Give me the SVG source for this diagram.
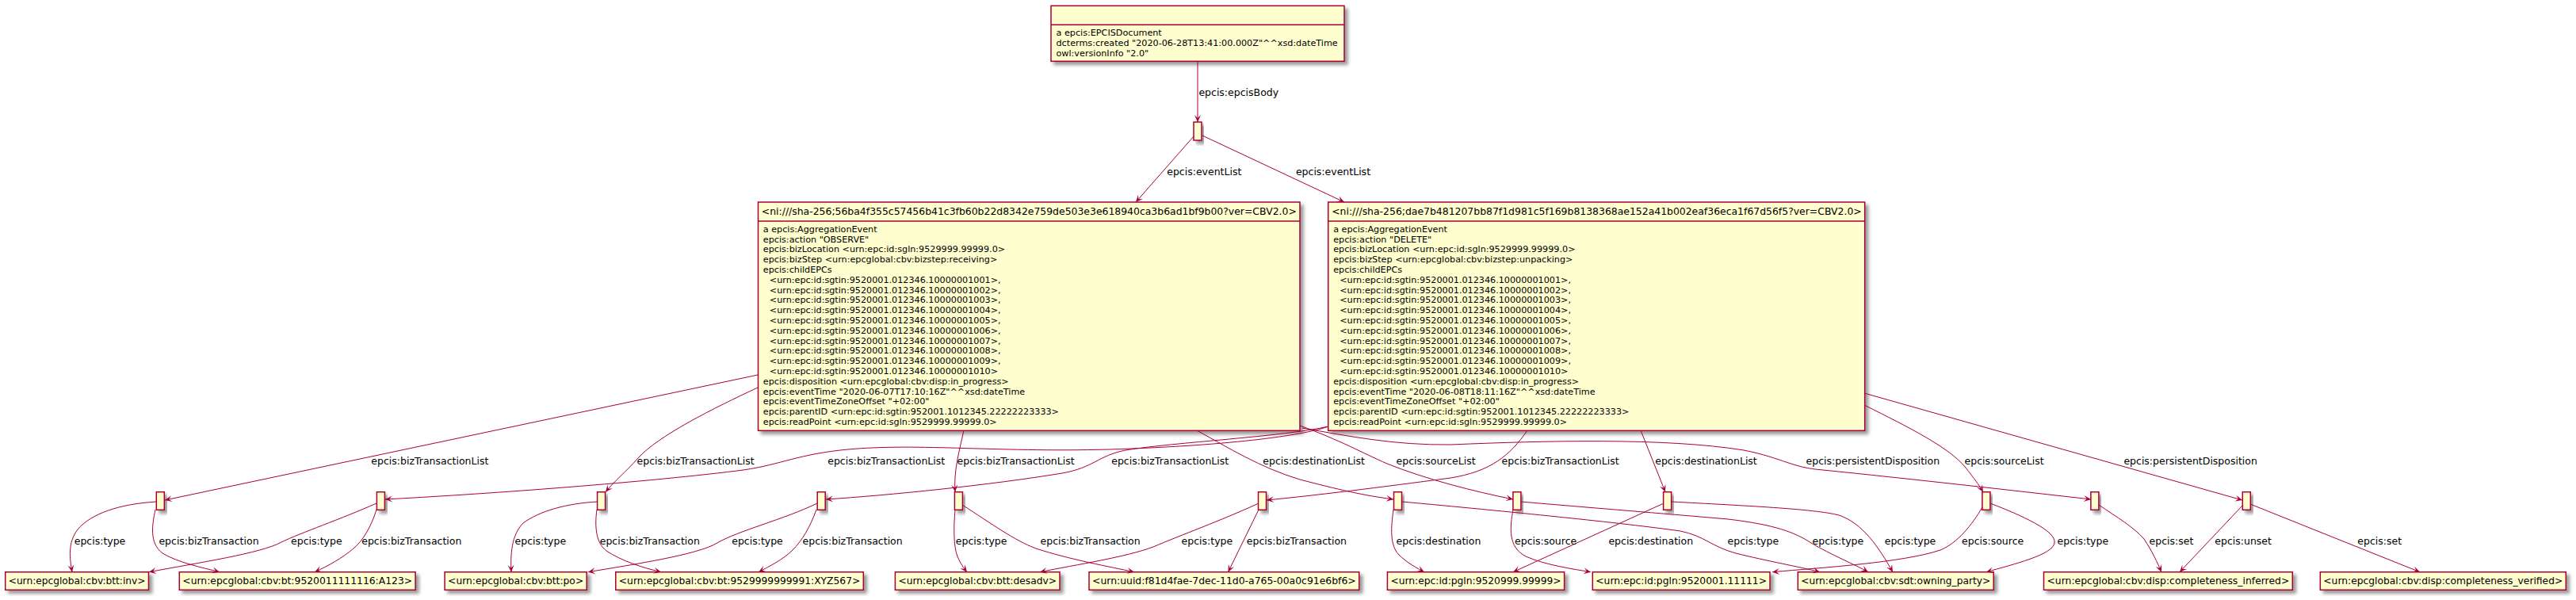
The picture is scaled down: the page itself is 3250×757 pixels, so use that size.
<svg xmlns="http://www.w3.org/2000/svg" width="3250" height="757" viewBox="0 0 3250 757">
<style>
.bx{fill:#FEFECE;stroke:#A80036;stroke-width:1.5}
.dv{stroke:#A80036;stroke-width:1.5}
.e{fill:none;stroke:#A80036;stroke-width:1}
text{font-family:"DejaVu Sans","Liberation Sans",sans-serif;fill:#000000}
.b{font-size:11.2px}
.h{font-size:12.3px}
.l{font-size:12.5px}
</style>
<defs>
<filter id="sh" x="-20%" y="-20%" width="150%" height="150%">
<feGaussianBlur in="SourceAlpha" stdDeviation="2" result="b1"/>
<feColorMatrix in="b1" type="matrix" values="0 0 0 0 0  0 0 0 0 0  0 0 0 0 0  0 0 0 0.4 0" result="b2"/>
<feOffset in="b2" dx="4" dy="4" result="b3"/>
<feMerge><feMergeNode in="b3"/><feMergeNode in="SourceGraphic"/></feMerge>
</filter>
<marker id="ah" viewBox="0 0 10 10" refX="10" refY="5" markerWidth="10" markerHeight="10" markerUnits="userSpaceOnUse" orient="auto">
<path d="M10,5 L1,1 L5,5 L1,9 Z" fill="#A80036"/>
</marker>
</defs>
<rect width="3250" height="757" fill="#FFFFFF"/>

<g id="doc">
<rect class="bx" x="1326" y="7.3" width="370" height="70" filter="url(#sh)"/>
<line class="dv" x1="1326" y1="31.3" x2="1696" y2="31.3"/>
<text class="b" x="1332.5" y="45">a epcis:EPCISDocument</text>
<text class="b" x="1332.5" y="57.8">dcterms:created "2020-06-28T13:41:00.000Z"^^xsd:dateTime</text>
<text class="b" x="1332.5" y="70.6">owl:versionInfo "2.0"</text>
</g>

<g id="body"><rect class="bx" x="1506" y="154" width="10" height="23" filter="url(#sh)"/></g>

<g id="event1">
<rect class="bx" x="956.5" y="255" width="683.5" height="288.3" filter="url(#sh)"/>
<line class="dv" x1="956.5" y1="279" x2="1640" y2="279"/>
<text class="h" x="960.8" y="270.5" textLength="675" lengthAdjust="spacingAndGlyphs">&lt;ni:///sha-256;56ba4f355c57456b41c3fb60b22d8342e759de503e3e618940ca3b6ad1bf9b00?ver=CBV2.0&gt;</text>
<text class="b" y="292.7">
<tspan x="962.8">a epcis:AggregationEvent</tspan>
<tspan x="962.8" dy="12.8">epcis:action "OBSERVE"</tspan>
<tspan x="962.8" dy="12.8">epcis:bizLocation &lt;urn:epc:id:sgln:9529999.99999.0&gt;</tspan>
<tspan x="962.8" dy="12.8">epcis:bizStep &lt;urn:epcglobal:cbv:bizstep:receiving&gt;</tspan>
<tspan x="962.8" dy="12.8">epcis:childEPCs</tspan>
<tspan x="970.8" dy="12.8">&lt;urn:epc:id:sgtin:9520001.012346.10000001001&gt;,</tspan>
<tspan x="970.8" dy="12.8">&lt;urn:epc:id:sgtin:9520001.012346.10000001002&gt;,</tspan>
<tspan x="970.8" dy="12.8">&lt;urn:epc:id:sgtin:9520001.012346.10000001003&gt;,</tspan>
<tspan x="970.8" dy="12.8">&lt;urn:epc:id:sgtin:9520001.012346.10000001004&gt;,</tspan>
<tspan x="970.8" dy="12.8">&lt;urn:epc:id:sgtin:9520001.012346.10000001005&gt;,</tspan>
<tspan x="970.8" dy="12.8">&lt;urn:epc:id:sgtin:9520001.012346.10000001006&gt;,</tspan>
<tspan x="970.8" dy="12.8">&lt;urn:epc:id:sgtin:9520001.012346.10000001007&gt;,</tspan>
<tspan x="970.8" dy="12.8">&lt;urn:epc:id:sgtin:9520001.012346.10000001008&gt;,</tspan>
<tspan x="970.8" dy="12.8">&lt;urn:epc:id:sgtin:9520001.012346.10000001009&gt;,</tspan>
<tspan x="970.8" dy="12.8">&lt;urn:epc:id:sgtin:9520001.012346.10000001010&gt;</tspan>
<tspan x="962.8" dy="12.8">epcis:disposition &lt;urn:epcglobal:cbv:disp:in_progress&gt;</tspan>
<tspan x="962.8" dy="12.8">epcis:eventTime "2020-06-07T17:10:16Z"^^xsd:dateTime</tspan>
<tspan x="962.8" dy="12.8">epcis:eventTimeZoneOffset "+02:00"</tspan>
<tspan x="962.8" dy="12.8">epcis:parentID &lt;urn:epc:id:sgtin:952001.1012345.22222223333&gt;</tspan>
<tspan x="962.8" dy="12.8">epcis:readPoint &lt;urn:epc:id:sgln:9529999.99999.0&gt;</tspan>
</text>
</g>

<g id="event2">
<rect class="bx" x="1675.7" y="255" width="677" height="288.3" filter="url(#sh)"/>
<line class="dv" x1="1675.7" y1="279" x2="2352.7" y2="279"/>
<text class="h" x="1680.2" y="270.5" textLength="668.5" lengthAdjust="spacingAndGlyphs">&lt;ni:///sha-256;dae7b481207bb87f1d981c5f169b8138368ae152a41b002eaf36eca1f67d56f5?ver=CBV2.0&gt;</text>
<text class="b" y="292.7">
<tspan x="1682.2">a epcis:AggregationEvent</tspan>
<tspan x="1682.2" dy="12.8">epcis:action "DELETE"</tspan>
<tspan x="1682.2" dy="12.8">epcis:bizLocation &lt;urn:epc:id:sgln:9529999.99999.0&gt;</tspan>
<tspan x="1682.2" dy="12.8">epcis:bizStep &lt;urn:epcglobal:cbv:bizstep:unpacking&gt;</tspan>
<tspan x="1682.2" dy="12.8">epcis:childEPCs</tspan>
<tspan x="1690.2" dy="12.8">&lt;urn:epc:id:sgtin:9520001.012346.10000001001&gt;,</tspan>
<tspan x="1690.2" dy="12.8">&lt;urn:epc:id:sgtin:9520001.012346.10000001002&gt;,</tspan>
<tspan x="1690.2" dy="12.8">&lt;urn:epc:id:sgtin:9520001.012346.10000001003&gt;,</tspan>
<tspan x="1690.2" dy="12.8">&lt;urn:epc:id:sgtin:9520001.012346.10000001004&gt;,</tspan>
<tspan x="1690.2" dy="12.8">&lt;urn:epc:id:sgtin:9520001.012346.10000001005&gt;,</tspan>
<tspan x="1690.2" dy="12.8">&lt;urn:epc:id:sgtin:9520001.012346.10000001006&gt;,</tspan>
<tspan x="1690.2" dy="12.8">&lt;urn:epc:id:sgtin:9520001.012346.10000001007&gt;,</tspan>
<tspan x="1690.2" dy="12.8">&lt;urn:epc:id:sgtin:9520001.012346.10000001008&gt;,</tspan>
<tspan x="1690.2" dy="12.8">&lt;urn:epc:id:sgtin:9520001.012346.10000001009&gt;,</tspan>
<tspan x="1690.2" dy="12.8">&lt;urn:epc:id:sgtin:9520001.012346.10000001010&gt;</tspan>
<tspan x="1682.2" dy="12.8">epcis:disposition &lt;urn:epcglobal:cbv:disp:in_progress&gt;</tspan>
<tspan x="1682.2" dy="12.8">epcis:eventTime "2020-06-08T18:11:16Z"^^xsd:dateTime</tspan>
<tspan x="1682.2" dy="12.8">epcis:eventTimeZoneOffset "+02:00"</tspan>
<tspan x="1682.2" dy="12.8">epcis:parentID &lt;urn:epc:id:sgtin:952001.1012345.22222223333&gt;</tspan>
<tspan x="1682.2" dy="12.8">epcis:readPoint &lt;urn:epc:id:sgln:9529999.99999.0&gt;</tspan>
</text>
</g>

<g id="blanks">
<g id="bA"><rect class="bx" x="197.3" y="620.7" width="10" height="22.6" filter="url(#sh)"/></g>
<g id="bB"><rect class="bx" x="475.4" y="620.7" width="10" height="22.6" filter="url(#sh)"/></g>
<g id="bC"><rect class="bx" x="753.6" y="620.7" width="10" height="22.6" filter="url(#sh)"/></g>
<g id="bD"><rect class="bx" x="1031.2" y="620.7" width="10" height="22.6" filter="url(#sh)"/></g>
<g id="bE"><rect class="bx" x="1204.4" y="620.7" width="10" height="22.6" filter="url(#sh)"/></g>
<g id="bF"><rect class="bx" x="1587.5" y="620.7" width="10" height="22.6" filter="url(#sh)"/></g>
<g id="bG"><rect class="bx" x="1758.5" y="620.7" width="10" height="22.6" filter="url(#sh)"/></g>
<g id="bH"><rect class="bx" x="1908.9" y="620.7" width="10" height="22.6" filter="url(#sh)"/></g>
<g id="bI"><rect class="bx" x="2098.6" y="620.7" width="10" height="22.6" filter="url(#sh)"/></g>
<g id="bJ"><rect class="bx" x="2500.9" y="620.7" width="10" height="22.6" filter="url(#sh)"/></g>
<g id="bK"><rect class="bx" x="2637.9" y="620.7" width="10" height="22.6" filter="url(#sh)"/></g>
<g id="bL"><rect class="bx" x="2829.3" y="620.7" width="10" height="22.6" filter="url(#sh)"/></g>
</g>

<g id="leaves">
<g id="n1"><rect class="bx" x="6.7" y="721.7" width="180.8" height="22.6" filter="url(#sh)"/><text class="h" x="10.7" y="737" textLength="172.8" lengthAdjust="spacingAndGlyphs">&lt;urn:epcglobal:cbv:btt:inv&gt;</text></g>
<g id="n2"><rect class="bx" x="226.3" y="721.7" width="297.8" height="22.6" filter="url(#sh)"/><text class="h" x="230.3" y="737" textLength="289.8" lengthAdjust="spacingAndGlyphs">&lt;urn:epcglobal:cbv:bt:9520011111116:A123&gt;</text></g>
<g id="n3"><rect class="bx" x="561.1" y="721.7" width="179.1" height="22.6" filter="url(#sh)"/><text class="h" x="565.1" y="737" textLength="171.1" lengthAdjust="spacingAndGlyphs">&lt;urn:epcglobal:cbv:btt:po&gt;</text></g>
<g id="n4"><rect class="bx" x="776.8" y="721.7" width="312.5" height="22.6" filter="url(#sh)"/><text class="h" x="780.8" y="737" textLength="304.5" lengthAdjust="spacingAndGlyphs">&lt;urn:epcglobal:cbv:bt:9529999999991:XYZ567&gt;</text></g>
<g id="n5"><rect class="bx" x="1129.4" y="721.7" width="207.6" height="22.6" filter="url(#sh)"/><text class="h" x="1133.4" y="737" textLength="199.6" lengthAdjust="spacingAndGlyphs">&lt;urn:epcglobal:cbv:btt:desadv&gt;</text></g>
<g id="n6"><rect class="bx" x="1374" y="721.7" width="340.7" height="22.6" filter="url(#sh)"/><text class="h" x="1378" y="737" textLength="332.7" lengthAdjust="spacingAndGlyphs">&lt;urn:uuid:f81d4fae-7dec-11d0-a765-00a0c91e6bf6&gt;</text></g>
<g id="n7"><rect class="bx" x="1750.4" y="721.7" width="223.2" height="22.6" filter="url(#sh)"/><text class="h" x="1754.4" y="737" textLength="215.2" lengthAdjust="spacingAndGlyphs">&lt;urn:epc:id:pgln:9520999.99999&gt;</text></g>
<g id="n8"><rect class="bx" x="2009.3" y="721.7" width="223.7" height="22.6" filter="url(#sh)"/><text class="h" x="2013.3" y="737" textLength="215.7" lengthAdjust="spacingAndGlyphs">&lt;urn:epc:id:pgln:9520001.11111&gt;</text></g>
<g id="n9"><rect class="bx" x="2268.3" y="721.7" width="246.9" height="22.6" filter="url(#sh)"/><text class="h" x="2272.3" y="737" textLength="238.9" lengthAdjust="spacingAndGlyphs">&lt;urn:epcglobal:cbv:sdt:owning_party&gt;</text></g>
<g id="n10"><rect class="bx" x="2578.5" y="721.7" width="313.8" height="22.6" filter="url(#sh)"/><text class="h" x="2582.5" y="737" textLength="305.8" lengthAdjust="spacingAndGlyphs">&lt;urn:epcglobal:cbv:disp:completeness_inferred&gt;</text></g>
<g id="n11"><rect class="bx" x="2927.3" y="721.7" width="310" height="22.6" filter="url(#sh)"/><text class="h" x="2931.3" y="737" textLength="302" lengthAdjust="spacingAndGlyphs">&lt;urn:epcglobal:cbv:disp:completeness_verified&gt;</text></g>
</g>

<g id="connectors" marker-end="url(#ah)">
<path class="e" d="M1511,77.3 L1511,154"/>
<path class="e" d="M1506,172 L1433,255"/>
<path class="e" d="M1517,171 L1696,255"/>

<path class="e" d="M956,473 L208,631"/>
<path class="e" d="M1676,538 C1650,548 1560,562 1400,567 C1250,571 1150,558 1060,568 C1000,575 980,588 930,594 C800,610 600,624 486,630"/>
<path class="e" d="M956,489 C900,515 830,550 805,578 C790,595 775,607 764,620.7"/>
<path class="e" d="M1676,538 C1620,551 1480,558 1420,568 C1385,575 1380,590 1340,597 C1250,612 1120,625 1042,630"/>
<path class="e" d="M1216,543 C1210,570 1203,595 1205,620.7"/>
<path class="e" d="M1927,543 C1905,575 1880,595 1830,603 C1740,615 1660,625 1598,631"/>
<path class="e" d="M1510,543 C1550,565 1590,590 1640,605 C1690,618 1720,625 1758,630"/>
<path class="e" d="M1640,537 C1690,555 1720,572 1750,585 C1800,605 1860,620 1909,630"/>
<path class="e" d="M2070,543 L2101,620.7"/>
<path class="e" d="M1643,540 C1700,550 1760,562 1830,561 C1950,556 2100,552 2200,568 C2250,578 2260,590 2300,593 C2400,603 2550,620 2638,630"/>
<path class="e" d="M2352,511 C2410,540 2460,565 2480,590 C2490,603 2497,612 2502,620.7"/>
<path class="e" d="M2352,496 L2829,631"/>

<path class="e" d="M197,633 C150,636 115,648 98,668 C85,685 88,705 91,721.7"/>
<path class="e" d="M196,643 C192,662 188,685 205,698 C225,710 255,716 277,721.7"/>
<path class="e" d="M475,635 C430,655 380,672 355,684 C330,698 250,710 188,721.7"/>
<path class="e" d="M475,643 C468,665 458,682 446,692 C432,704 414,714 397,721.7"/>
<path class="e" d="M754,633 C715,635 680,645 660,660 C645,675 644,700 645,721.7"/>
<path class="e" d="M753,643 C750,665 752,685 765,695 C785,708 810,716 834,721.7"/>
<path class="e" d="M1031,635 C990,655 930,670 905,685 C880,700 800,712 742,721.7"/>
<path class="e" d="M1030,643 C1022,665 1012,682 1000,694 C988,706 970,715 957,721.7"/>
<path class="e" d="M1205,643 C1203,665 1203,690 1208,702 C1212,712 1217,718 1220,721.7"/>
<path class="e" d="M1214,637 C1250,660 1280,682 1307,692 C1350,706 1400,715 1431,721.7"/>
<path class="e" d="M1588,635 C1540,657 1490,675 1455,690 C1420,703 1360,712 1312,721.7"/>
<path class="e" d="M1588,643 L1549.5,721.7"/>
<path class="e" d="M1758,643 C1755,665 1753,688 1765,700 C1775,710 1788,717 1797,721.7"/>
<path class="e" d="M1769,633 C1900,645 2050,660 2120,670 C2150,676 2160,690 2190,698 C2230,708 2270,715 2296,721.7"/>
<path class="e" d="M1909,643 C1905,665 1902,690 1925,702 C1950,713 1985,718 2007,721.7"/>
<path class="e" d="M1919,633 C2000,640 2100,648 2180,655 C2240,662 2265,672 2285,685 C2310,700 2340,712 2357,721.7"/>
<path class="e" d="M2099,635 L1909,721.7"/>
<path class="e" d="M2109,633 C2200,638 2290,642 2320,650 C2350,660 2370,690 2388,721.7"/>
<path class="e" d="M2501,640 C2488,662 2470,685 2448,694 C2400,710 2300,716 2236,721.7"/>
<path class="e" d="M2511,635 C2550,650 2595,670 2592,685 C2590,700 2540,712 2506,721.7"/>
<path class="e" d="M2648,637 C2670,652 2692,665 2705,680 C2715,695 2722,710 2727,721.7"/>
<path class="e" d="M2829,638 L2750,721.7"/>
<path class="e" d="M2839,636 L3053,721.7"/>
</g>

<g id="labels">
<text class="l" x="1512.4" y="120.5">epcis:epcisBody</text>
<text class="l" x="1472.2" y="221">epcis:eventList</text>
<text class="l" x="1634.9" y="221">epcis:eventList</text>

<text class="l" x="468.3" y="586">epcis:bizTransactionList</text>
<text class="l" x="803.6" y="586">epcis:bizTransactionList</text>
<text class="l" x="1044.2" y="586">epcis:bizTransactionList</text>
<text class="l" x="1207.6" y="586">epcis:bizTransactionList</text>
<text class="l" x="1402.2" y="586">epcis:bizTransactionList</text>
<text class="l" x="1593.3" y="586">epcis:destinationList</text>
<text class="l" x="1761.6" y="586">epcis:sourceList</text>
<text class="l" x="1894.6" y="586">epcis:bizTransactionList</text>
<text class="l" x="2088.2" y="586">epcis:destinationList</text>
<text class="l" x="2278.6" y="586">epcis:persistentDisposition</text>
<text class="l" x="2478.5" y="586">epcis:sourceList</text>
<text class="l" x="2679.4" y="586">epcis:persistentDisposition</text>

<text class="l" x="93.7" y="687">epcis:type</text>
<text class="l" x="200.4" y="687">epcis:bizTransaction</text>
<text class="l" x="367" y="687">epcis:type</text>
<text class="l" x="456.2" y="687">epcis:bizTransaction</text>
<text class="l" x="649.5" y="687">epcis:type</text>
<text class="l" x="756.7" y="687">epcis:bizTransaction</text>
<text class="l" x="923.2" y="687">epcis:type</text>
<text class="l" x="1012.5" y="687">epcis:bizTransaction</text>
<text class="l" x="1205.8" y="687">epcis:type</text>
<text class="l" x="1312.5" y="687">epcis:bizTransaction</text>
<text class="l" x="1490.6" y="687">epcis:type</text>
<text class="l" x="1572.8" y="687">epcis:bizTransaction</text>
<text class="l" x="1761.6" y="687">epcis:destination</text>
<text class="l" x="1911" y="687">epcis:source</text>
<text class="l" x="2029.4" y="687">epcis:destination</text>
<text class="l" x="2179.5" y="687">epcis:type</text>
<text class="l" x="2286.6" y="687">epcis:type</text>
<text class="l" x="2377.7" y="687">epcis:type</text>
<text class="l" x="2475" y="687">epcis:source</text>
<text class="l" x="2595.5" y="687">epcis:type</text>
<text class="l" x="2711.6" y="687">epcis:set</text>
<text class="l" x="2794.3" y="687">epcis:unset</text>
<text class="l" x="2974.3" y="687">epcis:set</text>
</g>
</svg>
